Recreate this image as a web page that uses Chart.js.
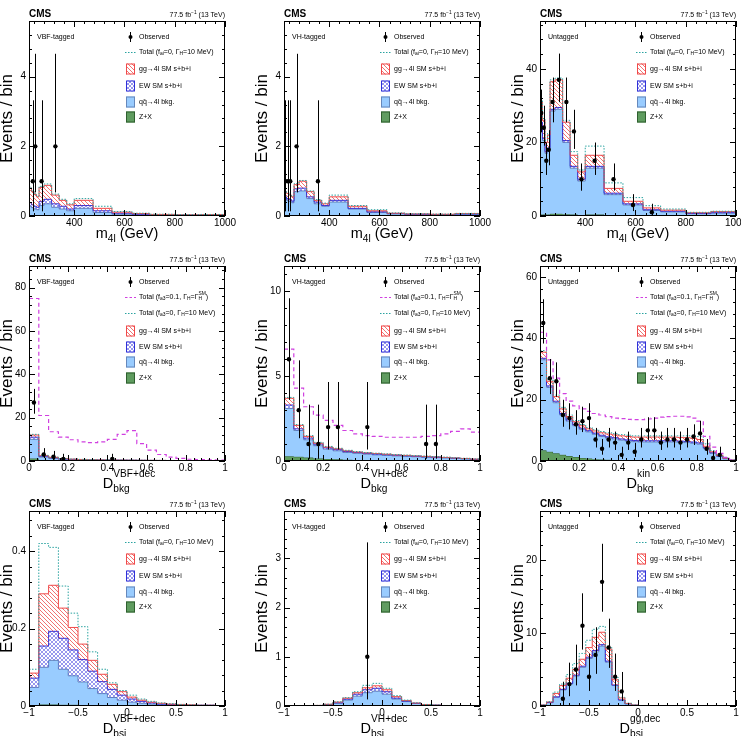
<!DOCTYPE html>
<html>
<head>
<meta charset="utf-8">
<script src="https://cdn.jsdelivr.net/npm/chart.js@4.4.1/dist/chart.umd.min.js"></script>
<style>
  body { margin: 0; background: #fff; width: 741px; height: 736px; position: relative; overflow: hidden; }
  canvas { position: absolute; }
</style>
</head>
<body>
<script>
// bin edges
const massEdges = [220, 230, 240, 250, 260, 280, 310, 340, 370, 400, 475, 550, 630, 700, 800, 900, 1000];
const dbkgEdges = [0, 0.05, 0.1, 0.15, 0.2, 0.25, 0.3, 0.35, 0.4, 0.45, 0.5, 0.55, 0.6, 0.65, 0.7, 0.75, 0.8, 0.85, 0.9, 0.95, 1];
const dkinEdges = [0, 0.0333, 0.0667, 0.1, 0.1333, 0.1667, 0.2, 0.2333, 0.2667, 0.3, 0.3333, 0.3667, 0.4, 0.4333, 0.4667, 0.5,
  0.5333, 0.5667, 0.6, 0.6333, 0.6667, 0.7, 0.7333, 0.7667, 0.8, 0.8333, 0.8667, 0.9, 0.9333, 0.9667, 1];
const dbsiEdges = [-1, -0.9, -0.8, -0.7, -0.6, -0.5, -0.4, -0.3, -0.2, -0.1, 0, 0.1, 0.2, 0.3, 0.4, 0.5, 0.6, 0.7, 0.8, 0.9, 1];
const dbsiGGEdges = [-1, -0.9333, -0.8667, -0.8, -0.7333, -0.6667, -0.6, -0.5333, -0.4667, -0.4, -0.3333, -0.2667, -0.2, -0.1333, -0.0667, 0,
  0.0667, 0.1333, 0.2, 0.2667, 0.3333, 0.4, 0.4667, 0.5333, 0.6, 0.6667, 0.7333, 0.8, 0.8667, 0.9333, 1];

// tick labels
const massTicks = [400, 600, 800, 1000];
const massTickLabels = ['400', '600', '800', '1000'];
const dbkgTicks = [0, 0.2, 0.4, 0.6, 0.8, 1];
const dbkgTickLabels = ['0', '0.2', '0.4', '0.6', '0.8', '1'];
const dbsiTicks = [-1, -0.5, 0, 0.5, 1];
const dbsiTickLabels = ['\u22121', '\u22120.5', '0', '0.5', '1'];
const yTicksMassLow = [0, 2, 4];
const yTicksMassUnt = [0, 20, 40];
const yTicksVbfDbkg = [0, 20, 40, 60, 80];
const yTicksVhDbkg = [0, 5, 10];
const yTicksUntDbkg = [0, 20, 40, 60];
const yTicksVbfDbsi = [0, 0.2, 0.4];
const yTicksVhDbsi = [0, 1, 2, 3];
const yTicksUntDbsi = [0, 10, 20];

// VBF-tagged, m4l
const vbfMassZX = [0.02, 0.02, 0.02, 0.02, 0.02, 0.02, 0.01, 0.01, 0.01, 0.01, 0.005, 0.003, 0.002, 0.001, 0.001, 0.001];
const vbfMassQQ = [0.26, 0.22, 0.18, 0.16, 0.28, 0.33, 0.24, 0.19, 0.14, 0.21, 0.095, 0.047, 0.028, 0.019, 0.014, 0.014];
const vbfMassEW = [0.10, 0.08, 0.08, 0.07, 0.12, 0.13, 0.10, 0.08, 0.05, 0.08, 0.05, 0.03, 0.02, 0.01, 0.01, 0.015];
const vbfMassGG = [0.42, 0.38, 0.34, 0.30, 0.40, 0.40, 0.25, 0.17, 0.12, 0.15, 0.07, 0.03, 0.02, 0.015, 0.01, 0.01];
const vbfMassTotal = [0.83, 0.72, 0.64, 0.57, 0.85, 0.92, 0.63, 0.48, 0.35, 0.50, 0.28, 0.13, 0.08, 0.05, 0.04, 0.045];
const vbfMassObs = [0, 1, 2, 0, 1, 0, 2, 0, 0, 0, 0, 0, 0, 0, 0, 0];

// VH-tagged, m4l
const vhMassZX = [0.03, 0.03, 0.03, 0.03, 0.03, 0.03, 0.02, 0.02, 0.01, 0.01, 0.01, 0.005, 0.003, 0.002, 0.002, 0.002];
const vhMassQQ = [0.47, 0.42, 0.39, 0.35, 0.67, 0.69, 0.48, 0.33, 0.27, 0.39, 0.19, 0.095, 0.057, 0.038, 0.033, 0.048];
const vhMassEW = [0.05, 0.05, 0.05, 0.05, 0.08, 0.08, 0.05, 0.05, 0.02, 0.05, 0.02, 0.02, 0.01, 0.01, 0.005, 0.01];
const vhMassGG = [0.15, 0.15, 0.13, 0.12, 0.12, 0.20, 0.15, 0.05, 0.05, 0.10, 0.06, 0.03, 0.01, 0.01, 0.01, 0.01];
const vhMassTotal = [0.72, 0.67, 0.62, 0.57, 0.93, 1.02, 0.72, 0.47, 0.37, 0.60, 0.30, 0.18, 0.09, 0.065, 0.055, 0.075];
const vhMassObs = [1, 1, 1, 0, 2, 0, 0, 1, 0, 0, 0, 0, 0, 0, 0, 0];

// Untagged, m4l
const untMassZX = [0.4, 0.4, 0.4, 0.4, 0.6, 0.6, 0.5, 0.4, 0.3, 0.4, 0.2, 0.1, 0.05, 0.04, 0.02, 0.02];
const untMassQQ = [24.6, 20.1, 16.6, 17.6, 27.9, 28.4, 19.5, 12.6, 9.2, 12.6, 5.6, 2.9, 1.45, 1.06, 0.58, 0.78];
const untMassEW = [0.5, 0.5, 0.5, 0.5, 0.5, 0.5, 0.5, 0.5, 0.5, 0.5, 0.4, 0.3, 0.2, 0.2, 0.1, 0.1];
const untMassGG = [5.5, 5, 2.5, 3.5, 7.5, 7.5, 5, 3, 2, 3, 1.3, 0.7, 0.5, 0.3, 0.2, 0.3];
const untMassTotal = [31.5, 26.5, 20.5, 22.5, 37, 37.5, 26, 17.5, 12.5, 19, 9, 5, 2.8, 1.9, 1.0, 1.3];
const untMassObs = [28, 24, 15, 18, 31, 37, 31, 23, 10, 15, 10, 3, 1, 0, 0, 0];

// VBF-tagged, D_bkg
const vbfDbkgZX = [1.2, 0.3, 0.15, 0.1, 0.08, 0.05, 0.04, 0.03, 0.03, 0.02, 0.02, 0.02, 0.01, 0.01, 0.01, 0.01, 0.01, 0.01, 0.01, 0.01];
const vbfDbkgQQ = [8.8, 1.5, 1.05, 0.7, 0.52, 0.45, 0.38, 0.33, 0.29, 0.28, 0.26, 0.23, 0.21, 0.19, 0.17, 0.15, 0.13, 0.11, 0.09, 0.07];
const vbfDbkgEW = [1.0, 0.4, 0.3, 0.2, 0.15, 0.12, 0.1, 0.09, 0.08, 0.07, 0.06, 0.05, 0.05, 0.04, 0.03, 0.03, 0.03, 0.03, 0.02, 0.02];
const vbfDbkgGG = [1.0, 0.3, 0.2, 0.1, 0.1, 0.08, 0.06, 0.05, 0.04, 0.03, 0.03, 0.03, 0.02, 0.02, 0.02, 0.01, 0.01, 0.01, 0.01, 0.01];
const vbfDbkgTotal = [12.3, 2.6, 1.8, 1.15, 0.9, 0.74, 0.62, 0.53, 0.47, 0.43, 0.4, 0.35, 0.31, 0.28, 0.25, 0.22, 0.19, 0.17, 0.14, 0.12];
const vbfDbkgBsm = [75, 21, 13.5, 11, 9.8, 8.8, 8.5, 8.8, 10, 12.3, 14, 8, 5, 3, 1.8, 1.2, 0.8, 0.6, 0.5, 0.4];
const vbfDbkgObs = [27, 3, 2, 1, 0, 0, 0, 0, 1, 0, 0, 0, 0, 0, 0, 0, 0, 0, 0, 0];

// VH-tagged, D_bkg
const vhDbkgZX = [0.28, 0.25, 0.2, 0.15, 0.12, 0.1, 0.08, 0.06, 0.05, 0.04, 0.03, 0.02, 0.02, 0.02, 0.01, 0.01, 0.01, 0.01, 0.01, 0.01];
const vhDbkgQQ = [2.82, 1.55, 1.05, 0.75, 0.58, 0.5, 0.42, 0.39, 0.35, 0.32, 0.3, 0.28, 0.25, 0.23, 0.21, 0.19, 0.17, 0.14, 0.11, 0.07];
const vhDbkgEW = [0.2, 0.1, 0.1, 0.1, 0.08, 0.07, 0.06, 0.05, 0.05, 0.05, 0.04, 0.04, 0.04, 0.03, 0.03, 0.03, 0.02, 0.02, 0.02, 0.02];
const vhDbkgGG = [0.4, 0.2, 0.1, 0.05, 0.04, 0.05, 0.04, 0.03, 0.03, 0.03, 0.03, 0.02, 0.02, 0.02, 0.02, 0.01, 0.01, 0.01, 0.01, 0.01];
const vhDbkgTotal = [3.75, 2.15, 1.5, 1.1, 0.86, 0.75, 0.63, 0.56, 0.5, 0.46, 0.42, 0.38, 0.35, 0.32, 0.29, 0.26, 0.23, 0.19, 0.16, 0.12];
const vhDbkgBsm = [6.6, 4.3, 3.2, 2.7, 2.4, 2.1, 1.8, 1.6, 1.5, 1.45, 1.4, 1.4, 1.4, 1.4, 1.45, 1.5, 1.6, 1.75, 1.9, 1.7];
const vhDbkgObs = [6, 3, 1, 1, 2, 2, 0, 0, 2, 0, 0, 0, 0, 0, 1, 1, 0, 0, 0, 0];

// Untagged, D_bkg^kin
const untDbkgZX = [3.5, 3.0, 2.5, 2.0, 1.6, 1.3, 1.0, 0.8, 0.6, 0.5, 0.4, 0.3, 0.25, 0.2, 0.18, 0.15, 0.13, 0.12, 0.1, 0.1,
  0.1, 0.1, 0.1, 0.1, 0.1, 0.08, 0.05, 0.03, 0.02, 0.01];
const untDbkgQQ = [29.5, 21, 16.5, 13, 11.4, 10.2, 9.3, 8.7, 8.1, 7.5, 7.1, 6.9, 6.55, 6.3, 6.12, 6.05, 6.07, 6.08, 6.1, 6.1,
  6.1, 6.0, 5.9, 5.7, 5.4, 3.92, 2.45, 1.47, 0.68, 0.19];
const untDbkgEW = [0.5, 0.5, 0.5, 0.5, 0.4, 0.4, 0.4, 0.4, 0.4, 0.4, 0.4, 0.4, 0.4, 0.4, 0.4, 0.4, 0.4, 0.4, 0.4, 0.4,
  0.4, 0.4, 0.4, 0.4, 0.4, 0.3, 0.2, 0.15, 0.1, 0.05];
const untDbkgGG = [2.0, 1.5, 1.5, 1.5, 1.1, 0.9, 0.8, 0.6, 0.7, 0.8, 0.9, 0.9, 1.0, 1.1, 1.1, 1.2, 1.2, 1.2, 1.2, 1.2,
  1.2, 1.2, 1.2, 1.2, 1.1, 0.5, 0.3, 0.15, 0.1, 0.05];
const untDbkgTotal = [36, 26.5, 21.5, 17.5, 15, 13.2, 11.9, 10.9, 10.2, 9.6, 9.2, 8.9, 8.6, 8.4, 8.2, 8.2, 8.2, 8.2, 8.2, 8.2,
  8.2, 8.2, 8.2, 8.1, 8.0, 5.6, 3.4, 2.0, 1.0, 0.35];
const untDbkgBsm = [42, 33, 27, 22, 19.5, 18, 17, 16.2, 15.5, 15, 14.5, 14, 13.8, 13.6, 13.5, 13.5, 13.7, 14, 14.3, 14.5,
  14.6, 14.6, 14.4, 14, 13, 8, 4.5, 2.5, 1.2, 0.4];
const untDbkgObs = [45, 27, 26, 15, 14, 12, 13, 14, 7, 4, 7, 6, 2, 6, 3, 7, 10, 10, 6, 7, 7, 6, 7, 8, 9, 4, 1, 2, 0, 0];

// VBF-tagged, D_bsi
const vbfDbsiZX = [0.002, 0.004, 0.004, 0.003, 0.003, 0.002, 0.002, 0.001, 0.001, 0.001, 0, 0, 0, 0, 0, 0, 0, 0, 0, 0];
const vbfDbsiQQ = [0.046, 0.096, 0.114, 0.092, 0.075, 0.06, 0.043, 0.031, 0.021, 0.014, 0.01, 0.007, 0.005, 0.003, 0.002, 0.002, 0.001, 0.001, 0.001, 0.001];
const vbfDbsiEW = [0.024, 0.055, 0.075, 0.08, 0.067, 0.058, 0.045, 0.031, 0.021, 0.013, 0.008, 0.005, 0.003, 0.002, 0.002, 0.001, 0.001, 0.001, 0.001, 0];
const vbfDbsiGG = [0.013, 0.135, 0.119, 0.078, 0.058, 0.04, 0.028, 0.019, 0.013, 0.009, 0.005, 0.003, 0.002, 0.002, 0.001, 0.001, 0.001, 0, 0, 0];
const vbfDbsiTotal = [0.095, 0.42, 0.41, 0.31, 0.24, 0.205, 0.14, 0.095, 0.06, 0.04, 0.028, 0.018, 0.012, 0.008, 0.006, 0.004, 0.003, 0.002, 0.002, 0.001];
const vbfDbsiObs = [0, 0, 0, 0, 0, 0, 0, 0, 0, 0, 0, 0, 0, 0, 0, 0, 0, 0, 0, 0];

// VH-tagged, D_bsi
const vhDbsiZX = [0, 0, 0, 0, 0.002, 0.005, 0.01, 0.015, 0.02, 0.02, 0.02, 0.015, 0.01, 0.005, 0.003, 0.002, 0.001, 0, 0, 0];
const vhDbsiQQ = [0.003, 0.004, 0.005, 0.008, 0.023, 0.05, 0.11, 0.185, 0.25, 0.28, 0.22, 0.125, 0.08, 0.045, 0.022, 0.013, 0.007, 0.004, 0.002, 0.001];
const vhDbsiEW = [0.001, 0.001, 0.001, 0.002, 0.005, 0.01, 0.02, 0.04, 0.06, 0.06, 0.05, 0.02, 0.01, 0.005, 0.003, 0.002, 0.001, 0.001, 0.001, 0.001];
const vhDbsiGG = [0.001, 0.001, 0.002, 0.002, 0.005, 0.015, 0.02, 0.03, 0.04, 0.05, 0.04, 0.03, 0.01, 0.005, 0.002, 0.001, 0.001, 0.001, 0, 0];
const vhDbsiTotal = [0.005, 0.006, 0.008, 0.013, 0.037, 0.085, 0.17, 0.29, 0.42, 0.46, 0.36, 0.21, 0.12, 0.065, 0.032, 0.02, 0.011, 0.006, 0.003, 0.002];
const vhDbsiObs = [0, 0, 0, 0, 0, 0, 0, 0, 1, 0, 0, 0, 0, 0, 0, 0, 0, 0, 0, 0];

// Untagged, D_bsi^gg,dec
const untDbsiZX = [0, 0.01, 0.03, 0.05, 0.08, 0.1, 0.12, 0.15, 0.15, 0.15, 0.12, 0.06, 0.02, 0.01, 0,
  0, 0, 0, 0, 0, 0, 0, 0, 0, 0, 0, 0, 0, 0, 0];
const untDbsiQQ = [0.1, 0.44, 1.17, 2.15, 2.92, 4.0, 5.18, 6.35, 7.25, 8.05, 5.88, 2.74, 0.78, 0.29, 0.1,
  0.03, 0.01, 0, 0, 0, 0, 0, 0, 0, 0, 0, 0, 0, 0, 0];
const untDbsiEW = [0, 0.03, 0.05, 0.08, 0.1, 0.12, 0.15, 0.18, 0.2, 0.2, 0.15, 0.08, 0.03, 0.01, 0,
  0, 0, 0, 0, 0, 0, 0, 0, 0, 0, 0, 0, 0, 0, 0];
const untDbsiGG = [0.02, 0.07, 0.45, 0.52, 0.7, 0.78, 0.95, 1.32, 1.8, 1.7, 1.65, 0.72, 0.27, 0.04, 0.02,
  0.01, 0, 0, 0, 0, 0, 0, 0, 0, 0, 0, 0, 0, 0, 0];
const untDbsiTotal = [0.13, 0.6, 1.9, 3.0, 4.3, 5.8, 7.2, 9.0, 10.5, 10.9, 8.0, 3.9, 1.2, 0.4, 0.13,
  0.04, 0.01, 0, 0, 0, 0, 0, 0, 0, 0, 0, 0, 0, 0, 0];
const untDbsiObs = [0, 0, 0, 1, 3, 5, 11, 4, 7, 17, 8, 4, 2, 0, 0, 0, 0, 0, 0, 0, 0, 0, 0, 0, 0, 0, 0, 0, 0, 0];

const FONT = '"Liberation Sans", Arial, Helvetica, sans-serif';
const COL_X = [0, 247, 494];
const ROW_Y = [0, 245, 490];
const FRAME_L = [29, 37, 46];
const FRAME_T = 21, FRAME_W = 196, FRAME_H = 195;

const C_QQ = '#99ccff', C_QQ_LINE = '#6688bb';
const C_ZX = '#5f9c5f', C_ZX_LINE = '#2f5f2f';
const C_GG_LINE = '#f04a4a', C_EW_LINE = '#3030d8';
const C_TOTAL = '#2aa3a0', C_BSM = '#d040e0';

const titleMass = ['m', { sub: '4l' }, ' (GeV)'];

const panels = [
  { col: 0, row: 0, cat: 'VBF-tagged', edges: massEdges, zx: vbfMassZX, qq: vbfMassQQ, ew: vbfMassEW, gg: vbfMassGG,
    total: vbfMassTotal, obs: vbfMassObs, xMin: 220, xMax: 1000, yMax: 5.6, xTicks: massTicks, xLabels: massTickLabels,
    xMinor: 40, yTicks: yTicksMassLow, yMinor: 0.4, title: titleMass, fai: 'ai' },
  { col: 1, row: 0, cat: 'VH-tagged', edges: massEdges, zx: vhMassZX, qq: vhMassQQ, ew: vhMassEW, gg: vhMassGG,
    total: vhMassTotal, obs: vhMassObs, xMin: 220, xMax: 1000, yMax: 5.6, xTicks: massTicks, xLabels: massTickLabels,
    xMinor: 40, yTicks: yTicksMassLow, yMinor: 0.4, title: titleMass, fai: 'ai' },
  { col: 2, row: 0, cat: 'Untagged', edges: massEdges, zx: untMassZX, qq: untMassQQ, ew: untMassEW, gg: untMassGG,
    total: untMassTotal, obs: untMassObs, xMin: 220, xMax: 1000, yMax: 53, xTicks: massTicks, xLabels: massTickLabels,
    xMinor: 40, yTicks: yTicksMassUnt, yMinor: 4, title: titleMass, fai: 'ai' },
  { col: 0, row: 1, cat: 'VBF-tagged', edges: dbkgEdges, zx: vbfDbkgZX, qq: vbfDbkgQQ, ew: vbfDbkgEW, gg: vbfDbkgGG,
    total: vbfDbkgTotal, bsm: vbfDbkgBsm, obs: vbfDbkgObs, xMin: 0, xMax: 1, yMax: 90, xTicks: dbkgTicks, xLabels: dbkgTickLabels,
    xMinor: 0.04, yTicks: yTicksVbfDbkg, yMinor: 4, title: ['D', { sub: 'bkg', sup: 'VBF+dec' }], fai: 'a3' },
  { col: 1, row: 1, cat: 'VH-tagged', edges: dbkgEdges, zx: vhDbkgZX, qq: vhDbkgQQ, ew: vhDbkgEW, gg: vhDbkgGG,
    total: vhDbkgTotal, bsm: vhDbkgBsm, obs: vhDbkgObs, xMin: 0, xMax: 1, yMax: 11.5, xTicks: dbkgTicks, xLabels: dbkgTickLabels,
    xMinor: 0.04, yTicks: yTicksVhDbkg, yMinor: 1, title: ['D', { sub: 'bkg', sup: 'VH+dec' }], fai: 'a3' },
  { col: 2, row: 1, cat: 'Untagged', edges: dkinEdges, zx: untDbkgZX, qq: untDbkgQQ, ew: untDbkgEW, gg: untDbkgGG,
    total: untDbkgTotal, bsm: untDbkgBsm, obs: untDbkgObs, xMin: 0, xMax: 1, yMax: 63.6, xTicks: dbkgTicks, xLabels: dbkgTickLabels,
    xMinor: 0.04, yTicks: yTicksUntDbkg, yMinor: 4, title: ['D', { sub: 'bkg', sup: 'kin' }], fai: 'a3' },
  { col: 0, row: 2, cat: 'VBF-tagged', edges: dbsiEdges, zx: vbfDbsiZX, qq: vbfDbsiQQ, ew: vbfDbsiEW, gg: vbfDbsiGG,
    total: vbfDbsiTotal, obs: vbfDbsiObs, xMin: -1, xMax: 1, yMax: 0.504, xTicks: dbsiTicks, xLabels: dbsiTickLabels,
    xMinor: 0.1, yTicks: yTicksVbfDbsi, yMinor: 0.04, title: ['D', { sub: 'bsi', sup: 'VBF+dec' }], fai: 'ai' },
  { col: 1, row: 2, cat: 'VH-tagged', edges: dbsiEdges, zx: vhDbsiZX, qq: vhDbsiQQ, ew: vhDbsiEW, gg: vhDbsiGG,
    total: vhDbsiTotal, obs: vhDbsiObs, xMin: -1, xMax: 1, yMax: 3.96, xTicks: dbsiTicks, xLabels: dbsiTickLabels,
    xMinor: 0.1, yTicks: yTicksVhDbsi, yMinor: 0.2, title: ['D', { sub: 'bsi', sup: 'VH+dec' }], fai: 'ai' },
  { col: 2, row: 2, cat: 'Untagged', edges: dbsiGGEdges, zx: untDbsiZX, qq: untDbsiQQ, ew: untDbsiEW, gg: untDbsiGG,
    total: untDbsiTotal, obs: untDbsiObs, xMin: -1, xMax: 1, yMax: 26.7, xTicks: dbsiTicks, xLabels: dbsiTickLabels,
    xMinor: 0.1, yTicks: yTicksUntDbsi, yMinor: 2, title: ['D', { sub: 'bsi', sup: 'gg,dec' }], fai: 'ai' }
];

function hatch(ctx, color, step, cross, width) {
  const c = document.createElement('canvas');
  c.width = step; c.height = step;
  const g = c.getContext('2d');
  g.strokeStyle = color;
  g.lineWidth = width;
  g.beginPath();
  for (let k = -1; k <= 1; k++) {
    g.moveTo(k * step, 0); g.lineTo(k * step + step, step);
    if (cross) { g.moveTo(k * step, step); g.lineTo(k * step + step, 0); }
  }
  g.stroke();
  return ctx.createPattern(c, 'repeat');
}

function histPoints(edges, vals) {
  const pts = vals.map((v, i) => ({ x: edges[i], y: v }));
  pts.push({ x: edges[edges.length - 1], y: vals[vals.length - 1] });
  return pts;
}

// text with sub/superscripts: parts are strings or {sub, sup}
function drawRich(ctx, parts, x, y, size, align, subDy, supDy) {
  const small = size * 0.7;
  let w = 0;
  const items = parts.map(p => {
    if (typeof p === 'string') {
      ctx.font = size + 'px ' + FONT;
      const pw = ctx.measureText(p).width;
      w += pw;
      return { t: p, pw };
    }
    ctx.font = small + 'px ' + FONT;
    const pw = Math.max(p.sub ? ctx.measureText(p.sub).width : 0, p.sup ? ctx.measureText(p.sup).width : 0);
    w += pw;
    return { sub: p.sub, sup: p.sup, pw };
  });
  let cx = align === 'center' ? x - w / 2 : align === 'right' ? x - w : x;
  ctx.textAlign = 'left';
  items.forEach(it => {
    if (it.t !== undefined) {
      ctx.font = size + 'px ' + FONT;
      ctx.fillText(it.t, cx, y);
    } else {
      ctx.font = small + 'px ' + FONT;
      if (it.sub) ctx.fillText(it.sub, cx, y + size * subDy);
      if (it.sup) ctx.fillText(it.sup, cx, y - size * supDy);
    }
    cx += it.pw;
  });
}

function tickValues(min, max, step) {
  const out = [];
  for (let k = Math.ceil(min / step - 1e-6); k * step <= max + 1e-9; k++) out.push(k * step);
  return out;
}

function makePanel(p, idx) {
  const W = 247, H = p.row === 2 ? 246 : 252;
  const fl = FRAME_L[p.col];
  const cv = document.createElement('canvas');
  cv.width = W; cv.height = H;
  cv.style.left = COL_X[p.col] + 'px';
  cv.style.top = ROW_Y[p.row] + 'px';
  document.body.appendChild(cv);
  const ctx = cv.getContext('2d');
  const ggPat = hatch(ctx, 'rgba(236,70,70,0.85)', 4, false, 0.9);
  const ewPat = hatch(ctx, 'rgba(70,70,225,0.8)', 4, true, 0.7);

  const lvZX = p.zx.slice();
  const lvQQ = p.qq.map((v, i) => v + lvZX[i]);
  const lvEW = p.ew.map((v, i) => v + lvQQ[i]);
  const lvGG = p.gg.map((v, i) => v + lvEW[i]);

  const obsPts = [];
  p.obs.forEach((n, i) => {
    if (n > 0) obsPts.push({ x: (p.edges[i] + p.edges[i + 1]) / 2, y: n });
  });

  const datasets = [];
  datasets.push({ data: obsPts, showLine: false, pointRadius: 2.2, pointBackgroundColor: '#000', pointBorderWidth: 0 });
  if (p.bsm) {
    datasets.push({ data: histPoints(p.edges, p.bsm), stepped: true, fill: false, borderColor: C_BSM,
      borderWidth: 1.2, borderDash: [4, 3], pointRadius: 0 });
  }
  datasets.push({ data: histPoints(p.edges, p.total), stepped: true, fill: false, borderColor: C_TOTAL,
    borderWidth: 1, borderDash: [1.5, 1.5], pointRadius: 0 });
  const iGG = datasets.length;
  datasets.push({ data: histPoints(p.edges, lvGG), stepped: true, fill: iGG + 1, backgroundColor: ggPat,
    borderColor: C_GG_LINE, borderWidth: 1, pointRadius: 0 });
  datasets.push({ data: histPoints(p.edges, lvEW), stepped: true, fill: iGG + 2, backgroundColor: ewPat,
    borderColor: C_EW_LINE, borderWidth: 1, pointRadius: 0 });
  datasets.push({ data: histPoints(p.edges, lvQQ), stepped: true, fill: iGG + 3, backgroundColor: C_QQ,
    borderColor: C_QQ_LINE, borderWidth: 1, pointRadius: 0 });
  datasets.push({ data: histPoints(p.edges, lvZX), stepped: true, fill: 'origin', backgroundColor: C_ZX,
    borderColor: C_ZX_LINE, borderWidth: 1, pointRadius: 0 });

  const decor = {
    id: 'decor' + idx,
    afterDatasetsDraw(chart) {
      const { ctx, scales: { y }, chartArea: a } = chart;
      ctx.save();
      ctx.beginPath();
      ctx.rect(a.left, a.top, a.right - a.left, a.bottom - a.top);
      ctx.clip();
      ctx.strokeStyle = '#000';
      ctx.lineWidth = 1;
      chart.getDatasetMeta(0).data.forEach((pt, i) => {
        const n = obsPts[i].y;
        const lo = n - Math.sqrt(n - 0.25), hi = n + Math.sqrt(n + 0.75) + 1;
        const px = Math.round(pt.x) + 0.5;
        ctx.beginPath();
        ctx.moveTo(px, y.getPixelForValue(lo));
        ctx.lineTo(px, y.getPixelForValue(hi));
        ctx.stroke();
      });
      ctx.restore();
    },
    afterDraw(chart) {
      const { ctx, scales: { x, y }, chartArea: a } = chart;
      ctx.save();
      ctx.strokeStyle = '#000';
      ctx.lineWidth = 1;
      ctx.strokeRect(a.left + 0.5, a.top + 0.5, a.right - a.left - 1, a.bottom - a.top - 1);

      ctx.beginPath();
      tickValues(p.xMin, p.xMax, p.xMinor).forEach(v => {
        const major = p.xTicks.some(m => Math.abs(m - v) < p.xMinor * 0.01);
        const len = major ? 6 : 3;
        const px = Math.round(x.getPixelForValue(v)) + 0.5;
        ctx.moveTo(px, a.bottom); ctx.lineTo(px, a.bottom - len);
        ctx.moveTo(px, a.top); ctx.lineTo(px, a.top + len);
      });
      tickValues(0, p.yMax, p.yMinor).forEach(v => {
        const major = p.yTicks.some(m => Math.abs(m - v) < p.yMinor * 0.01);
        const len = major ? 6 : 3;
        const py = Math.round(y.getPixelForValue(v)) + 0.5;
        ctx.moveTo(a.left, py); ctx.lineTo(a.left + len, py);
        ctx.moveTo(a.right, py); ctx.lineTo(a.right - len, py);
      });
      ctx.stroke();

      ctx.fillStyle = '#000';
      ctx.textBaseline = 'alphabetic';
      ctx.font = 'bold 10px ' + FONT;
      ctx.textAlign = 'left';
      ctx.fillText('CMS', a.left, a.top - 4);
      drawRich(ctx, ['77.5 fb', { sup: '\u22121' }, ' (13 TeV)'], a.right, a.top - 4, 7, 'right', 0.3, 0.45);

      // axis titles
      if (typeof p.title[1] === 'object' && p.title[1].sup) {
        drawRich(ctx, p.title, a.left + (a.right - a.left) / 2 + 2, a.bottom + 27, 14.5, 'center', 0.25, 0.76);
      } else {
        drawRich(ctx, p.title, a.left + (a.right - a.left) / 2, a.bottom + 22, 14.5, 'center', 0.3, 0.45);
      }
      ctx.save();
      ctx.translate(a.left - 22, a.top + (a.bottom - a.top) / 2);
      ctx.rotate(-Math.PI / 2);
      ctx.font = '17px ' + FONT;
      ctx.textAlign = 'center';
      ctx.textBaseline = 'middle';
      ctx.fillText('Events / bin', 0, 0);
      ctx.restore();

      // category and legend
      ctx.textBaseline = 'middle';
      ctx.font = '7px ' + FONT;
      ctx.textAlign = 'left';
      ctx.fillText(p.cat, a.left + 8, a.top + 16);

      const rows = p.bsm ? [16, 31, 47, 65, 81, 96, 112] : [16, 31, 48, 65, 81, 96];
      const bx = a.left + 97, tx = a.left + 110;
      let r = 0;
      let yy = a.top + rows[r++];
      ctx.beginPath();
      ctx.moveTo(bx + 4.5, yy - 5); ctx.lineTo(bx + 4.5, yy + 5);
      ctx.stroke();
      ctx.beginPath();
      ctx.arc(bx + 4.5, yy, 2, 0, Math.PI * 2);
      ctx.fill();
      drawRich(ctx, ['Observed'], tx, yy, 7, 'left', 0.3, 0.45);

      if (p.bsm) {
        yy = a.top + rows[r++];
        ctx.save();
        ctx.strokeStyle = C_BSM; ctx.setLineDash([2.5, 2]);
        ctx.beginPath(); ctx.moveTo(bx - 1, yy + 0.5); ctx.lineTo(bx + 10, yy + 0.5); ctx.stroke();
        ctx.restore();
        drawRich(ctx, ['Total (f', { sub: 'a3' }, '=0.1, \u0393', { sub: 'H' }, '=\u0393', { sub: 'H', sup: 'SM' }, ')'],
          tx, yy, 7, 'left', 0.3, 0.45);
      }
      yy = a.top + rows[r++];
      ctx.save();
      ctx.strokeStyle = C_TOTAL; ctx.setLineDash([1.5, 1.5]);
      ctx.beginPath(); ctx.moveTo(bx - 1, yy + 0.5); ctx.lineTo(bx + 10, yy + 0.5); ctx.stroke();
      ctx.restore();
      drawRich(ctx, ['Total (f', { sub: p.fai }, '=0, \u0393', { sub: 'H' }, '=10 MeV)'], tx, yy, 7, 'left', 0.3, 0.45);

      const boxes = [
        [ggPat, C_GG_LINE, 'gg\u21924l SM s+b+i'],
        [ewPat, C_EW_LINE, 'EW SM s+b+i'],
        [C_QQ, C_QQ_LINE, 'qq\u0304\u21924l bkg.'],
        [C_ZX, C_ZX_LINE, 'Z+X']
      ];
      boxes.forEach(([fill, line, label]) => {
        yy = a.top + rows[r++];
        ctx.fillStyle = '#fff';
        ctx.fillRect(bx, yy - 5.5, 9, 11);
        ctx.fillStyle = fill;
        ctx.fillRect(bx, yy - 5.5, 9, 11);
        ctx.strokeStyle = line;
        ctx.strokeRect(bx + 0.5, yy - 5, 8, 10);
        ctx.fillStyle = '#000';
        drawRich(ctx, [label], tx, yy, 7, 'left', 0.3, 0.45);
      });
      ctx.restore();
    }
  };

  const tickFont = { family: FONT, size: 10 };
  new Chart(ctx, {
    type: 'line',
    data: { datasets },
    options: {
      responsive: false,
      animation: false,
      events: [],
      layout: { autoPadding: false, padding: { left: 0, top: FRAME_T, right: W - fl - FRAME_W, bottom: 0 } },
      plugins: { legend: { display: false }, tooltip: { enabled: false } },
      elements: { line: { tension: 0 } },
      scales: {
        x: {
          type: 'linear', min: p.xMin, max: p.xMax,
          afterBuildTicks: s => { s.ticks = p.xTicks.map(v => ({ value: v })); },
          afterFit: s => { s.height = H - FRAME_T - FRAME_H; s.paddingLeft = 0; s.paddingRight = 0; },
          ticks: { autoSkip: false, maxRotation: 0, minRotation: 0, padding: 1, color: '#000', font: tickFont,
            callback: (v, i) => p.xLabels[i] },
          grid: { display: false, drawTicks: false },
          border: { display: false }
        },
        y: {
          type: 'linear', min: 0, max: p.yMax,
          afterBuildTicks: s => { s.ticks = p.yTicks.map(v => ({ value: v })); },
          afterFit: s => { s.width = fl; s.paddingTop = 0; s.paddingBottom = 0; },
          ticks: { autoSkip: false, padding: 3, color: '#000', font: tickFont,
            callback: (v, i) => String(p.yTicks[i]) },
          grid: { display: false, drawTicks: false },
          border: { display: false }
        }
      }
    },
    plugins: [decor]
  });
}

panels.forEach(makePanel);
</script>
</body>
</html>
